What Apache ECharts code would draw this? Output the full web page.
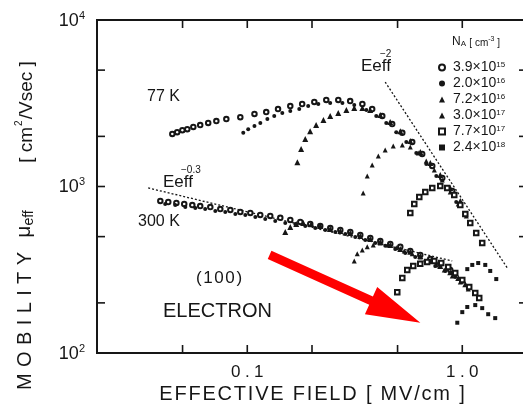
<!DOCTYPE html>
<html>
<head>
<meta charset="utf-8">
<script src="https://cdn.jsdelivr.net/npm/echarts@6/dist/echarts.min.js"></script>
<style>
  html, body { margin: 0; padding: 0; background: #ffffff; }
  #chart { width: 523px; height: 409px; }
</style>
</head>
<body>
<div id="chart"></div>
<script>
// Acceptor doping levels N_A [cm^-3]
const dopingMantissa = ['3.9', '2.0', '7.2', '3.0', '7.7', '2.4'];
const dopingExponent = ['15', '16', '16', '17', '17', '18'];

// Effective mobility [cm²/Vsec] vs effective field [MV/cm], (100) Si electrons, 77 K
const mu77K_39e15 = [[0.0448,2070],[0.0472,2120],[0.0499,2180],[0.0526,2210],[0.0561,2280],[0.0604,2340],[0.0658,2410],[0.0718,2470],[0.0799,2540],[0.0928,2610],[0.108,2730],[0.1225,2800],[0.139,2920],[0.1585,3040],[0.180,3130],[0.205,3220],[0.233,3310],[0.265,3310],[0.301,3260],[0.343,3130],[0.381,2920],[0.4245,2650],[0.472,2370],[0.526,2100],[0.585,1850],[0.651,1570],[0.725,1330],[0.807,1125],[0.898,940]];
const mu77K_20e16 = [[0.0958,2100],[0.101,2210],[0.108,2310],[0.115,2410],[0.124,2540],[0.1335,2650],[0.1455,2760],[0.1585,2840],[0.1745,2920],[0.192,3040],[0.214,3130],[0.243,3170],[0.277,3170],[0.3145,3090],[0.358,2880],[0.398,2650],[0.443,2410],[0.493,2120],[0.549,1850],[0.611,1590],[0.680,1365],[0.757,1157],[0.842,966],[0.937,807]];
const mu77K_72e16 = [[0.171,1400],[0.178,1680],[0.186,1930],[0.196,2150],[0.209,2340],[0.226,2510],[0.243,2650],[0.265,2760],[0.289,2880],[0.3145,2960],[0.343,2960],[0.373,2880],[0.4155,2690],[0.462,2440],[0.515,2150],[0.573,1876],[0.638,1610],[0.710,1385],[0.790,1173],[0.879,980],[0.979,819]];
const mu77K_30e17 = [[0.346,914],[0.3615,1157],[0.381,1346],[0.407,1525],[0.438,1657],[0.4775,1750],[0.526,1775],[0.573,1727],[0.624,1590],[0.680,1423],[0.741,1256],[0.807,1094],[0.879,927],[0.958,785],[1.044,666]];
const mu77K_77e17 = [[0.573,694],[0.598,785],[0.631,865],[0.673,927],[0.725,980],[0.790,1007],[0.851,980],[0.9175,889],[0.979,774],[1.033,684],[1.089,604],[1.161,526],[1.238,458]];
const mu77K_24e18 = [[1.055,319],[1.113,338],[1.186,347],[1.279,338],[1.349,311],[1.439,278]];

// Same devices at 300 K
const mu300K_39e15 = [[0.0394,819],[0.0429,807],[0.0468,796],[0.0509,785],[0.0555,774],[0.0604,763],[0.0673,753],[0.0749,732],[0.0834,723],[0.0928,703],[0.1033,694],[0.1149,675],[0.1279,666],[0.1424,648],[0.1585,630],[0.1764,613],[0.1963,596],[0.2185,579],[0.2432,563],[0.2708,548],[0.3013,533],[0.3354,512],[0.3733,491],[0.4155,470],[0.4624,452],[0.5147,434],[0.5728,410],[0.6376,388],[0.7096,367],[0.7898,343],[0.879,315]];
const mu300K_20e16 = [[0.0415,785],[0.0462,774],[0.0515,753],[0.0573,743],[0.0637,732],[0.0710,713],[0.079,703],[0.088,684],[0.0979,675],[0.109,657],[0.1212,639],[0.1349,621],[0.1502,604],[0.1672,596],[0.1861,579],[0.2071,563],[0.2305,548],[0.2566,533],[0.2857,519],[0.3179,498],[0.3538,477],[0.3938,458],[0.4383,440],[0.4878,422],[0.543,399],[0.6043,377],[0.6727,357],[0.7486,333],[0.8332,311],[0.9273,286],[1.0,267]];
const mu300K_72e16 = [[0.1502,533],[0.1585,571],[0.169,596],[0.1822,604],[0.1984,596],[0.2185,579],[0.2432,556],[0.2708,540],[0.3013,526],[0.3354,505],[0.3733,484],[0.4155,464],[0.4624,446],[0.5147,422],[0.5728,405],[0.6376,383],[0.7096,357],[0.7898,333],[0.879,306],[0.9576,282],[1.033,259]];
const mu300K_30e17 = [[0.3145,357],[0.3247,394],[0.3427,416],[0.3615,434],[0.3855,446],[0.4155,458],[0.4527,446],[0.4931,428],[0.5372,410],[0.5852,394],[0.6376,377],[0.6946,357],[0.7567,338],[0.8244,315],[0.898,290],[0.979,267],[1.066,242]];
const mu300K_77e17 = [[0.4984,232],[0.526,282],[0.5547,315],[0.5915,333],[0.6376,343],[0.6872,352],[0.7407,357],[0.7983,347],[0.8604,329],[0.9273,302],[1.0,274],[1.077,249],[1.149,229],[1.199,214]];
const mu300K_24e18 = [[0.948,152],[1.0,176],[1.055,189],[1.149,194],[1.238,186],[1.32,171],[1.423,162]];

// Power-law guide lines
const guideEm03 = [[0.0346,980],[0.898,357]];
const guideEm2 = [[0.438,4240],[1.62,324]];

// Arrow from / to (field, mobility)
const arrowFrom = [0.127, 388];
const arrowTo = [0.638, 152];

// Axis ranges and ticks
const fieldRange = [0.02, 2];
const mobilityRange = [100, 10000];
const fieldTicks = [0.05, 0.1, 0.2, 0.5, 1, 2];
const mobilityTicks = [200, 500, 1000, 2000, 5000];
const fieldTickLabels = ['0.1', '1.0'];       // at 10^-1 and 10^0
const mobilityTickExponents = ['2', '3', '4']; // 10^2 .. 10^4

const INK = '#161616';
const FONT = '"Liberation Sans", Arial, Helvetica, sans-serif';
const TICK = 8;

// Spread characters apart: each character becomes its own rich token with side padding
function spaced(str, style) {
  return str.split('').map(c => '{' + style + '|' + c + '}').join('');
}

const markerStyles = [
  { symbol: 'emptyCircle', size: 4.5, empty: true },
  { symbol: 'circle', size: 4 },
  { symbol: 'triangle', size: 6 },
  { symbol: 'triangle', size: 5 },
  { symbol: 'emptyRect', size: 4.5, empty: true },
  { symbol: 'rect', size: 4 }
];

const dopingNames = dopingMantissa.map((m, i) => m + '×10^' + dopingExponent[i]);
const curves77 = [mu77K_39e15, mu77K_20e16, mu77K_72e16, mu77K_30e17, mu77K_77e17, mu77K_24e18];
const curves300 = [mu300K_39e15, mu300K_20e16, mu300K_72e16, mu300K_30e17, mu300K_77e17, mu300K_24e18];

const series = [];
dopingNames.forEach((name, i) => {
  const st = markerStyles[i];
  [curves77[i], curves300[i]].forEach(data => {
    series.push({
      type: 'scatter', name, data,
      symbol: st.symbol, symbolSize: st.size,
      itemStyle: { color: INK, borderColor: INK, borderWidth: st.empty ? 1 : 0, opacity: 1 },
      silent: true, z: 3
    });
  });
});

[guideEm03, guideEm2].forEach(data => {
  series.push({
    type: 'line', data, symbol: 'none', silent: true, z: 2,
    lineStyle: { color: INK, width: 1.3, type: [2, 2] }
  });
});

// Frame ticks drawn inward on all four sides
series.push({
  type: 'custom', silent: true, z: 5, clip: false,
  data: fieldTicks.map(v => [v, mobilityRange[0]]),
  renderItem(params, api) {
    const cs = params.coordSys;
    const x = api.coord([api.value(0), api.value(1)])[0];
    const b = cs.y + cs.height, t = cs.y;
    const s = { stroke: INK, lineWidth: 1.6 };
    return { type: 'group', children: [
      { type: 'line', shape: { x1: x, y1: b, x2: x, y2: b - TICK }, style: s },
      { type: 'line', shape: { x1: x, y1: t, x2: x, y2: t + TICK }, style: s }
    ] };
  }
});
series.push({
  type: 'custom', silent: true, z: 5, clip: false,
  data: mobilityTicks.map(v => [fieldRange[0], v]),
  renderItem(params, api) {
    const cs = params.coordSys;
    const y = api.coord([api.value(0), api.value(1)])[1];
    const l = cs.x, r = cs.x + cs.width;
    const s = { stroke: INK, lineWidth: 1.6 };
    return { type: 'group', children: [
      { type: 'line', shape: { x1: l, y1: y, x2: l + TICK, y2: y }, style: s },
      { type: 'line', shape: { x1: r, y1: y, x2: r - TICK, y2: y }, style: s }
    ] };
  }
});

// Red arrow
series.push({
  type: 'custom', silent: true, z: 10, clip: false,
  data: [[arrowFrom[0], arrowFrom[1], arrowTo[0], arrowTo[1]]],
  encode: { x: [0, 2], y: [1, 3] },
  renderItem(params, api) {
    const p0 = api.coord([api.value(0), api.value(1)]);
    const p1 = api.coord([api.value(2), api.value(3)]);
    const dx = p1[0] - p0[0], dy = p1[1] - p0[1];
    const len = Math.sqrt(dx * dx + dy * dy);
    const ux = dx / len, uy = dy / len, nx = -uy, ny = ux;
    const headLen = 54, headHalf = 15, shaftHalf = 4.5;
    const bx = p1[0] - ux * headLen, by = p1[1] - uy * headLen;
    const pts = [
      [p0[0] + nx * shaftHalf, p0[1] + ny * shaftHalf],
      [bx + nx * shaftHalf, by + ny * shaftHalf],
      [bx + nx * headHalf, by + ny * headHalf],
      [p1[0], p1[1]],
      [bx - nx * headHalf, by - ny * headHalf],
      [bx - nx * shaftHalf, by - ny * shaftHalf],
      [p0[0] - nx * shaftHalf, p0[1] - ny * shaftHalf]
    ];
    return { type: 'polygon', shape: { points: pts }, style: { fill: '#ff0000' } };
  }
});

function isPow(v, e) { return Math.abs(Math.log10(v) - e) < 1e-6; }

const option = {
  backgroundColor: '#ffffff',
  animation: false,
  grid: {
    left: 97, top: 20, width: 430, height: 333, containLabel: false, outerBoundsMode: 'none',
    show: true, borderColor: INK, borderWidth: 2, backgroundColor: 'transparent'
  },
  xAxis: {
    type: 'log', logBase: 10, min: fieldRange[0], max: fieldRange[1],
    axisLine: { show: false }, axisTick: { show: false }, splitLine: { show: false },
    axisLabel: {
      margin: 11, color: INK, fontFamily: FONT, fontSize: 17,
      showMinLabel: false, showMaxLabel: false,
      formatter: v => isPow(v, -1) ? spaced(fieldTickLabels[0], 'd') : (isPow(v, 0) ? spaced(fieldTickLabels[1], 'd') : ''),
      rich: { d: { fontSize: 17, fontFamily: FONT, color: INK, padding: [0, 2.2, 0, 2.2] } }
    }
  },
  yAxis: {
    type: 'log', logBase: 10, min: mobilityRange[0], max: mobilityRange[1],
    axisLine: { show: false }, axisTick: { show: false }, splitLine: { show: false },
    axisLabel: {
      margin: 12, color: INK, fontFamily: FONT,
      formatter: v => {
        const e = Math.round(Math.log10(v));
        return '{b|10}{s|' + mobilityTickExponents[e - 2] + '}';
      },
      rich: {
        b: { fontSize: 18, fontFamily: FONT, color: INK, lineHeight: 20, verticalAlign: 'bottom' },
        s: { fontSize: 11, fontFamily: FONT, color: INK, lineHeight: 11, verticalAlign: 'top' }
      }
    }
  },
  legend: {
    orient: 'vertical', left: 433, top: 55, itemWidth: 6, itemHeight: 6, itemGap: 2,
    selectedMode: false, data: dopingNames,
    formatter: n => { const p = n.split('×10^'); return '{m|' + p[0] + '×10}{e|' + p[1] + '}'; },
    textStyle: {
      color: INK, fontFamily: FONT, fontSize: 14,
      rich: {
        m: { fontSize: 14, fontFamily: FONT, color: INK, lineHeight: 13, verticalAlign: 'bottom', padding: [0, 0, 0, 3] },
        e: { fontSize: 8, fontFamily: FONT, color: INK, lineHeight: 8, verticalAlign: 'top' }
      }
    }
  },
  graphic: [
    { type: 'text', x: 312, y: 394,
      style: { text: spaced('EFFECTIVE FIELD [ MV/cm ]', 'c'), align: 'center', verticalAlign: 'middle', fill: INK,
        rich: { c: { font: '20px ' + FONT, fill: INK, padding: [0, 0.9, 0, 0.9] } } } },
    { type: 'text', x: 25, y: 321, rotation: Math.PI / 2,
      style: { text: spaced('MOBILITY', 'l'), align: 'center', verticalAlign: 'middle', fill: INK,
        rich: { l: { font: '20px ' + FONT, fill: INK, padding: [0, 3.2, 0, 3.2] } } } },
    { type: 'text', x: 25, y: 224, rotation: Math.PI / 2,
      style: { text: '{m|μ}{s|eff}', align: 'center', verticalAlign: 'middle', fill: INK,
        rich: { m: { font: '21px ' + FONT, fill: INK, lineHeight: 22, verticalAlign: 'top' },
                s: { font: '14px ' + FONT, fill: INK, lineHeight: 14, verticalAlign: 'bottom' } } } },
    { type: 'text', x: 25, y: 112, rotation: Math.PI / 2,
      style: { text: '{t|[ cm}{p|2}{t|/Vsec ]}', align: 'center', verticalAlign: 'middle', fill: INK,
        rich: { t: { font: '19px ' + FONT, fill: INK, lineHeight: 22, verticalAlign: 'bottom' },
                p: { font: '10px ' + FONT, fill: INK, lineHeight: 11, verticalAlign: 'top', padding: [0, 1, 0, 1] } } } },
    { type: 'text', x: 147, y: 97, style: { text: '77 K', font: '16px ' + FONT, fill: INK, verticalAlign: 'middle' } },
    { type: 'text', x: 138, y: 222, style: { text: '300 K', font: '16px ' + FONT, fill: INK, verticalAlign: 'middle' } },
    { type: 'text', x: 163, y: 182, style: { text: 'Eeff', font: '17px ' + FONT, fill: INK, verticalAlign: 'middle' } },
    { type: 'text', x: 181, y: 170, style: { text: '−0.3', font: '10px ' + FONT, fill: INK, verticalAlign: 'middle' } },
    { type: 'text', x: 361, y: 66, style: { text: 'Eeff', font: '17px ' + FONT, fill: INK, verticalAlign: 'middle' } },
    { type: 'text', x: 380, y: 54, style: { text: '−2', font: '10px ' + FONT, fill: INK, verticalAlign: 'middle' } },
    { type: 'text', x: 219, y: 278, style: { text: spaced('(100)', 'p'), align: 'center', verticalAlign: 'middle', fill: INK,
        rich: { p: { font: '17px ' + FONT, fill: INK, padding: [0, 0.8, 0, 0.8] } } } },
    { type: 'text', x: 163, y: 311, style: { text: 'ELECTRON', font: '20px ' + FONT, fill: INK, verticalAlign: 'middle' } },
    { type: 'text', x: 452, y: 42,
      style: { text: '{n|N}{a|A} {t|[ cm}{p|-3}{t| ]}', verticalAlign: 'middle', fill: INK,
        rich: { n: { font: '12px ' + FONT, fill: INK, lineHeight: 12, verticalAlign: 'bottom' },
                a: { font: '8px ' + FONT, fill: INK, lineHeight: 8, verticalAlign: 'bottom' },
                t: { font: '10px ' + FONT, fill: INK, lineHeight: 12, verticalAlign: 'bottom' },
                p: { font: '7px ' + FONT, fill: INK, lineHeight: 7, verticalAlign: 'top' } } } }
  ],
  series
};

const chart = echarts.init(document.getElementById('chart'), null, { renderer: 'canvas' });
chart.setOption(option);
</script>
</body>
</html>
